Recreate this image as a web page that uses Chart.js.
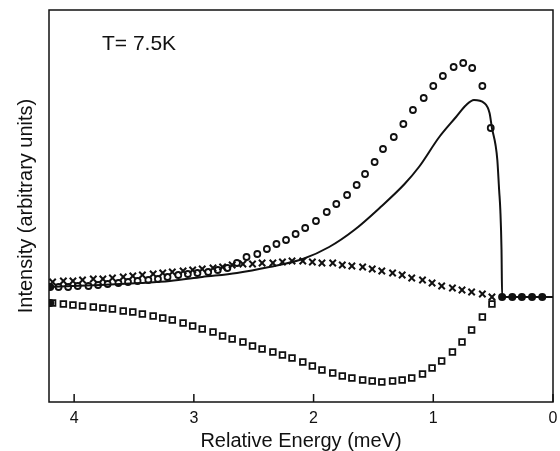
<!DOCTYPE html>
<html>
<head>
<meta charset="utf-8">
<script src="https://cdn.jsdelivr.net/npm/chart.js@4/dist/chart.umd.min.js"></script>
<style>
html, body { margin: 0; padding: 0; background: #fff; }
</style>
</head>
<body>
<canvas id="chart" width="560" height="451"></canvas>
<script>
// data (energy in meV, intensity in arbitrary units, baseline = 0)
const circleEnergy = [4.13, 4.05, 3.97, 3.88, 3.80, 3.72, 3.63, 3.55, 3.47, 3.38, 3.30, 3.22, 3.13, 3.05, 2.97,
    2.88, 2.80, 2.72, 2.64, 2.56, 2.47, 2.39, 2.31, 2.23, 2.15, 2.07, 1.98, 1.89, 1.81, 1.72,
    1.64, 1.57, 1.49, 1.42, 1.33, 1.25, 1.17, 1.08, 1.00, 0.92, 0.83, 0.75, 0.675, 0.59, 0.52];
const circleIntensity = [5, 5, 5.5, 5.5, 6, 6.5, 7, 7.5, 8, 8.5, 9, 10, 11, 11.5, 12,
    12.5, 13.5, 14.5, 17, 20, 21.5, 24, 26.5, 28.5, 31.5, 34.5, 38, 42.5, 46.5, 51,
    56, 61.5, 67.5, 74, 80, 86.5, 93.5, 99.5, 105.5, 110.5, 115, 117, 114.5, 105.5, 84.5];

const gridEnergy = [0.51, 0.59, 0.68, 0.76, 0.84, 0.93, 1.01, 1.09, 1.18, 1.26, 1.34, 1.43, 1.51, 1.59, 1.68,
    1.76, 1.84, 1.93, 2.01, 2.09, 2.18, 2.26, 2.34, 2.43, 2.51, 2.59, 2.68, 2.76, 2.84, 2.93,
    3.01, 3.09, 3.18, 3.26, 3.34, 3.43, 3.51, 3.59, 3.68, 3.76, 3.84, 3.93, 4.01, 4.09, 4.18];
const crossIntensity = [0, 1.5, 2.5, 3.5, 4.5, 5.5, 7, 8.5, 9.5, 11, 12, 13, 14, 15, 15.5,
    16, 17, 17, 17.5, 18, 18, 17.5, 17, 17, 16.5, 16.5, 16, 15, 14.5, 14,
    13.5, 13, 12.5, 12, 11.5, 11, 10.5, 10, 9.5, 9, 9, 8.5, 8, 8, 7.5];
const squareIntensity = [-3.5, -10, -16.5, -22.5, -27.5, -32, -35.5, -38.5, -40.5, -41.5, -42, -42.5, -42, -41.5, -40.5,
    -39.5, -38, -36.5, -34.5, -32.5, -30.5, -29, -27.5, -26, -24.5, -22.5, -21, -19.5, -17.5, -16,
    -14.5, -13, -11.5, -10.5, -9.5, -8.5, -7.5, -7, -6, -5.5, -5, -4.5, -4, -3.5, -3];

const fitEnergy = [4.21, 3.78, 3.45, 3.20, 2.93, 2.64, 2.37, 2.09, 1.87, 1.66, 1.44, 1.24, 1.12, 0.95, 0.81,
    0.725, 0.66, 0.575, 0.53, 0.51, 0.48, 0.465, 0.45, 0.44, 0.43, 0.425, 0];
const fitIntensity = [5, 6, 7, 8, 10, 12, 15, 19, 25, 33.5, 45, 56.5, 65, 80, 90,
    96, 98.5, 97, 92, 84.5, 76, 68.5, 53.5, 43.5, 23.5, 0, 0];

const dotEnergy = [4.2, 4.2, 0.425, 0.34, 0.26, 0.175, 0.09];
const dotIntensity = [5, -3, 0, 0, 0, 0, 0];

const xTicks = [4, 3, 2, 1, 0];
const tempLabel = 'T= 7.5K';

const pts = (xs, ys) => xs.map((x, i) => ({ x: x, y: ys[i] }));
const ink = '#111';
const fontFamily = '"Liberation Sans", Arial, sans-serif';

const framePlugin = {
    id: 'frame',
    afterDatasetsDraw(chart) {
        const { ctx, chartArea: a, scales: { x } } = chart;
        ctx.save();
        ctx.strokeStyle = ink;
        ctx.lineWidth = 1.5;
        ctx.strokeRect(a.left, a.top, a.right - a.left, a.bottom - a.top);
        // ticks point inward
        x.ticks.forEach(t => {
            const px = x.getPixelForValue(t.value);
            ctx.beginPath();
            ctx.moveTo(px, a.bottom);
            ctx.lineTo(px, a.bottom - 8);
            ctx.stroke();
        });
        ctx.fillStyle = ink;
        ctx.font = '21px ' + fontFamily;
        ctx.textBaseline = 'middle';
        ctx.fillText(tempLabel, a.left + 53, a.top + 34);
        ctx.restore();
    }
};

new Chart(document.getElementById('chart'), {
    type: 'scatter',
    data: {
        datasets: [{
            label: 'fit',
            data: pts(fitEnergy, fitIntensity),
            showLine: true,
            borderColor: ink,
            borderWidth: 2,
            pointRadius: 0,
            cubicInterpolationMode: 'monotone'
        }, {
            label: 'circles',
            data: pts(circleEnergy, circleIntensity),
            pointStyle: 'circle',
            pointRadius: 3,
            borderWidth: 1.8,
            borderColor: ink,
            backgroundColor: 'rgba(0,0,0,0)'
        }, {
            label: 'crosses',
            data: pts(gridEnergy, crossIntensity),
            pointStyle: 'crossRot',
            pointRadius: 4.5,
            borderWidth: 2,
            borderColor: ink
        }, {
            label: 'squares',
            data: pts(gridEnergy, squareIntensity),
            pointStyle: 'rect',
            pointRadius: 4,
            borderWidth: 1.8,
            borderColor: ink,
            backgroundColor: 'rgba(0,0,0,0)'
        }, {
            label: 'dots',
            data: pts(dotEnergy, dotIntensity),
            pointStyle: 'circle',
            pointRadius: 4,
            borderWidth: 0,
            backgroundColor: ink
        }]
    },
    options: {
        responsive: false,
        animation: false,
        devicePixelRatio: 1,
        layout: { padding: { top: 10, right: 7, left: 0, bottom: 0 } },
        plugins: { legend: { display: false }, tooltip: { enabled: false } },
        scales: {
            x: {
                type: 'linear',
                reverse: true,
                min: 0,
                max: 4.21,
                afterBuildTicks: scale => { scale.ticks = xTicks.map(v => ({ value: v })); },
                afterFit: scale => {
                    scale.height = 49;
                    scale.paddingLeft = 0;
                    scale.paddingRight = 0;
                },
                grid: { display: false, drawTicks: false },
                border: { display: false },
                ticks: { color: ink, padding: 7, font: { family: fontFamily, size: 16 } },
                title: {
                    display: true,
                    text: 'Relative Energy (meV)',
                    color: ink,
                    padding: { top: 0, bottom: 0 },
                    font: { family: fontFamily, size: 20, lineHeight: 1 }
                }
            },
            y: {
                min: -52.5,
                max: 143.5,
                afterFit: scale => {
                    scale.width = 49;
                    scale.paddingTop = 0;
                    scale.paddingBottom = 0;
                },
                grid: { display: false, drawTicks: false },
                border: { display: false },
                ticks: { display: false },
                title: {
                    display: true,
                    text: 'Intensity (arbitrary units)',
                    color: ink,
                    padding: { top: 14, bottom: 0 },
                    font: { family: fontFamily, size: 20, lineHeight: 1.2 }
                }
            }
        }
    },
    plugins: [framePlugin]
});
</script>
</body>
</html>
